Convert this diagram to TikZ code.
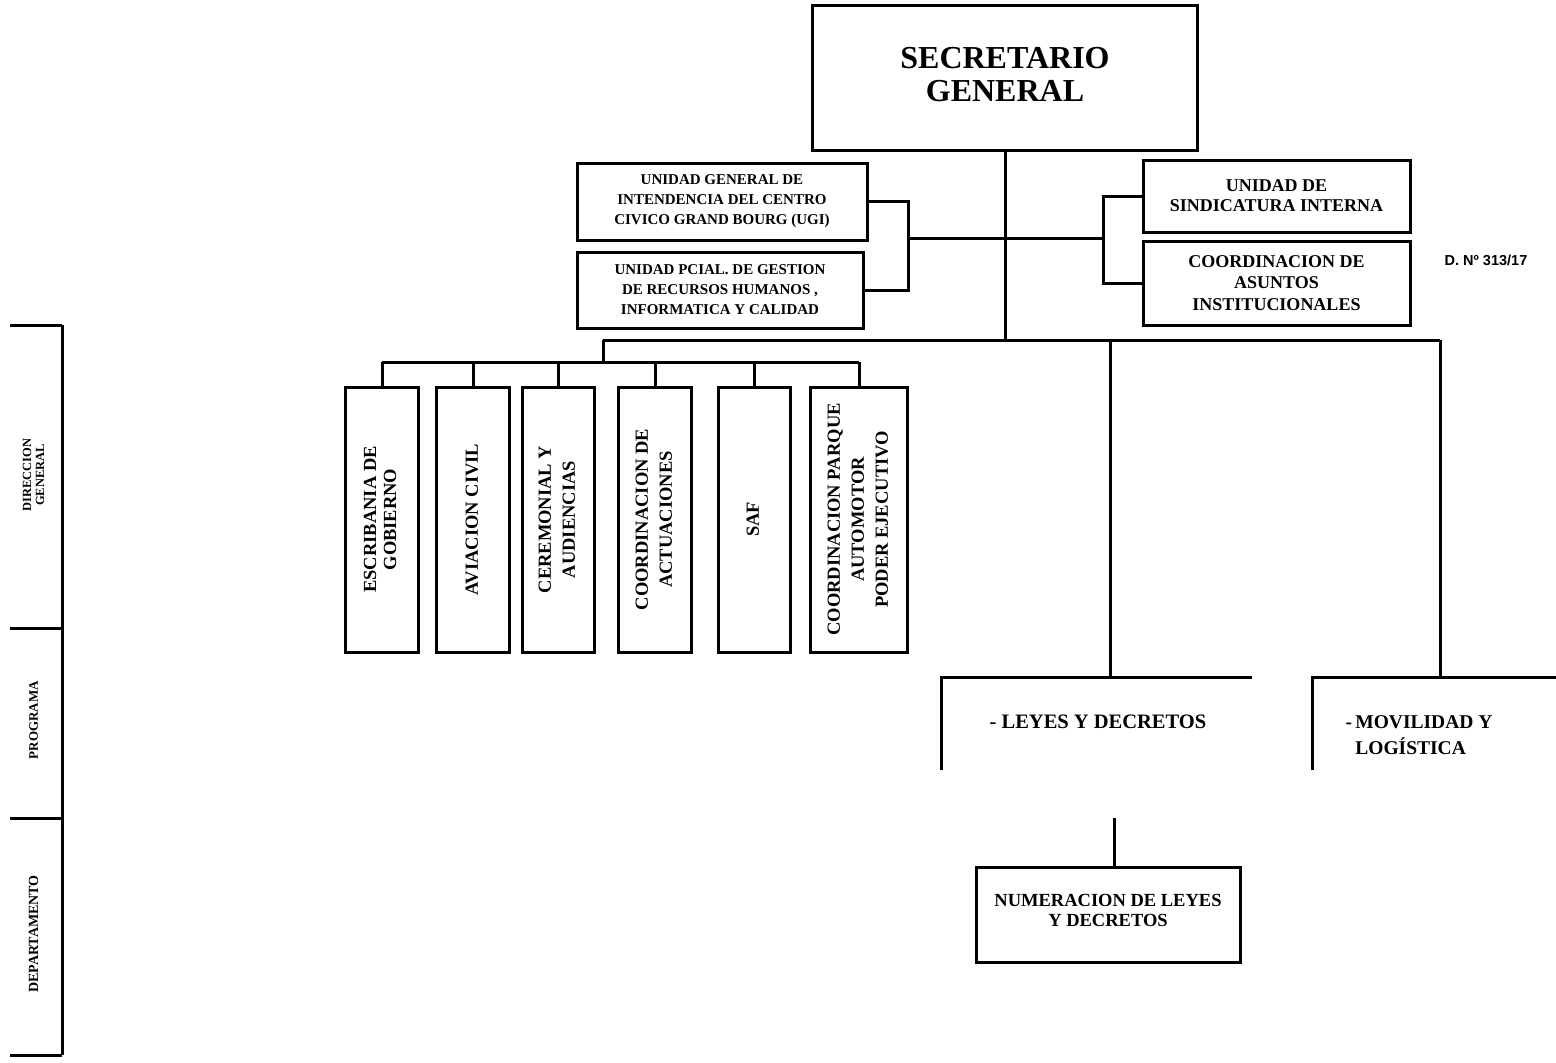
\documentclass[tikz,border=0pt]{standalone}
\usepackage{fontspec}
\usepackage{graphicx}
\setmainfont{Liberation Serif}
\newfontfamily\decfont{Liberation Sans}

\newcommand{\vlabel}[1]{\rotatebox{90}{\begin{tabular}{@{}c@{}}#1\end{tabular}}}

\begin{document}
\begin{tikzpicture}[x=1pt,y=-1pt,line width=3pt,
    box/.style={draw,rectangle,align=center,inner sep=0pt,
      font=\bfseries\fontsize{15}{20}\selectfont},
    rbox/.style={box,minimum width=267,font=\bfseries\fontsize{18}{20}\selectfont},
    vbox/.style={draw,rectangle,inner sep=0pt,minimum height=265,
      font=\bfseries\fontsize{18.5}{24}\selectfont},
    prog/.style={inner sep=0pt,font=\bfseries\fontsize{20.5}{26}\selectfont},
    lbl/.style={inner sep=0pt,font=\bfseries\fontsize{12.5}{13}\selectfont}]

  \useasboundingbox (0,0) rectangle (1556,1063);

  % cabecera
  \node[box,minimum width=385,minimum height=145,text depth=6pt,
    font=\bfseries\fontsize{32}{33}\selectfont] (sec) at (1005,77.5) {SECRETARIO\\GENERAL};

  \node[box,minimum width=290,minimum height=77] (ugi) at (722,201.5)
    {UNIDAD GENERAL DE\\INTENDENCIA DEL CENTRO\\CIVICO GRAND BOURG (UGI)};
  \node[box,minimum width=286,minimum height=76] (rrhh) at (720,290)
    {UNIDAD PCIAL. DE GESTION\\DE RECURSOS HUMANOS ,\\INFORMATICA Y CALIDAD};
  \node[rbox,minimum height=72] (sind) at (1276.5,196)
    {UNIDAD DE\\SINDICATURA INTERNA};
  \node[rbox,minimum height=84,font=\bfseries\fontsize{18}{21.5}\selectfont] (coord) at (1276.5,283)
    {COORDINACION DE\\ASUNTOS\\INSTITUCIONALES};
  \node[inner sep=0pt,font=\decfont\bfseries\fontsize{14.5}{16}\selectfont] (dec) at (1486,260)
    {D. Nº 313/17};

  \coordinate (lbr) at (908,238);
  \coordinate (rbr) at (1103,238);
  \coordinate (j0) at (1005,340);
  \coordinate (hl) at (603,340);
  \coordinate (hr) at (1440,340);
  \coordinate (rowc) at (603,362);

  \draw (sec) -- (j0);
  \draw (ugi.east) -| (lbr) |- (rrhh.east);
  \draw (sind.west) -| (rbr) |- (coord.west);
  \draw (lbr) -- (rbr);
  \draw (hl) -- (hr);
  \draw (hl) -- (rowc);

  % direcciones generales
  \begin{scope}[every node/.style={vbox}]
    \node[minimum width=73,font=\bfseries\fontsize{18.5}{20}\selectfont] (esc) at (382,519.5) {\vlabel{ESCRIBANIA DE\\GOBIERNO}};
    \node[minimum width=73] (avi) at (473,519.5) {\vlabel{AVIACION CIVIL}};
    \node[minimum width=72] (cer) at (558,519.5) {\vlabel{CEREMONIAL  Y\\AUDIENCIAS}};
    \node[minimum width=73] (act) at (655,519.5) {\vlabel{COORDINACION DE\\ACTUACIONES}};
    \node[minimum width=72] (saf) at (754,519.5) {\vlabel{SAF}};
    \node[minimum width=97] (par) at (859,519.5) {\vlabel{COORDINACION PARQUE\\AUTOMOTOR\\PODER  EJECUTIVO}};
  \end{scope}

  \draw (esc.north |- rowc) -- (par.north |- rowc);
  \foreach \n in {esc,avi,cer,act,saf,par}
    \draw (\n.north) -- (\n.north |- rowc);

  % programas
  \coordinate (ly) at (1110,677);
  \coordinate (lyl) at (941,677);
  \coordinate (lyr) at (1252,677);
  \coordinate (lyb) at (941,770);
  \coordinate (mv) at (1440,677);
  \coordinate (mvl) at (1312,677);
  \coordinate (mvr) at (1556,677);
  \coordinate (mvb) at (1312,770);

  \draw (ly |- hr) -- (ly);
  \draw (lyr) -- (lyl) -- (lyb);
  \draw (hr) -- (mv);
  \draw (mvr) -- (mvl) -- (mvb);

  \node[prog] (leyes) at (1098,722) {- LEYES Y DECRETOS};
  \node[prog,align=left,font=\bfseries\fontsize{19.5}{26}\selectfont] (movil) at (1419,735)
    {-\,MOVILIDAD Y\\\hspace*{0.5em}LOGÍSTICA};

  % departamento
  \node[box,minimum width=264,minimum height=95,text depth=10pt,
    font=\bfseries\fontsize{18.5}{20}\selectfont] (num) at (1108,915)
    {NUMERACION DE LEYES\\Y DECRETOS};
  \coordinate (nt) at (1114,818);
  \draw (nt) -- (nt |- num.north);

  % niveles
  \coordinate (n0) at (62,325);
  \coordinate (n1) at (62,628);
  \coordinate (n2) at (62,818);
  \coordinate (n3) at (62,1055);
  \draw (n0) -- (n3);
  \foreach \c in {n0,n1,n2,n3}
    \draw (\c) -- ++(-52,0);

  \node[lbl] (ndg) at (35,475) {\vlabel{DIRECCION\\GENERAL}};
  \node[lbl,font=\bfseries\fontsize{13}{14}\selectfont] (npr) at (35,720) {\vlabel{PROGRAMA}};
  \node[lbl,font=\bfseries\fontsize{14}{15}\selectfont] (ndp) at (35,934) {\vlabel{DEPARTAMENTO}};

\end{tikzpicture}
\end{document}
